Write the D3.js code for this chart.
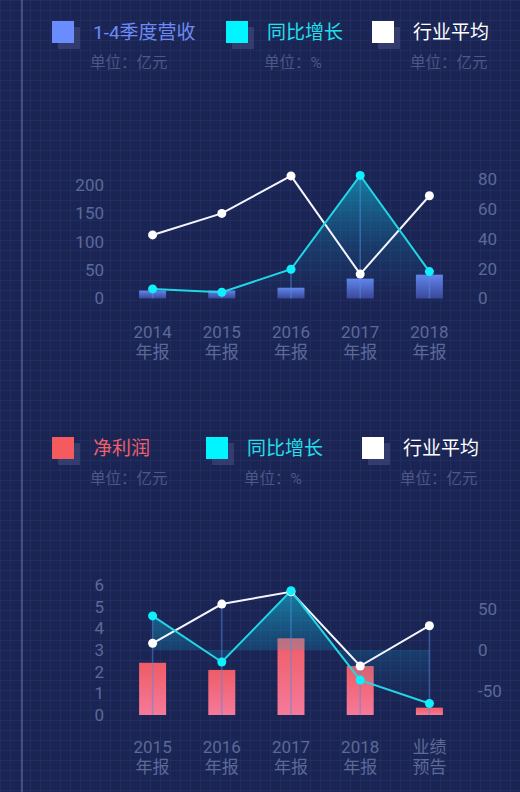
<!DOCTYPE html>
<html>
<head>
<meta charset="utf-8">
<script src="https://cdn.jsdelivr.net/npm/d3@7"></script>
<style>
  html, body { margin: 0; padding: 0; background: #1b2553; }
  svg { display: block; font-family: Roboto, "Noto Sans CJK SC", sans-serif; }
</style>
</head>
<body>
<div id="chart-container"></div>
<script>
const W = 520, H = 792;

// ---- data: top chart ----
const topYears = ["2014", "2015", "2016", "2017", "2018"];
const topSub = ["年报", "年报", "年报", "年报", "年报"];
const topRevenue = [14, 14, 19, 35, 42];          // 亿元
const topGrowth = [6.4, 4.2, 19.6, 82.4, 18];     // %
const topIndustry = [112, 150, 216, 43, 181];     // 亿元
const topLeftTicks = [0, 50, 100, 150, 200];
const topRightTicks = [0, 20, 40, 60, 80];
// which point each guide line hangs from: "g" growth, "w" industry
const topDrop = ["g", "g", "g", "g", "g"];

// ---- data: bottom chart ----
const botYears = ["2015", "2016", "2017", "2018", "业绩"];
const botSub = ["年报", "年报", "年报", "年报", "预告"];
const botProfit = [2.41, 2.08, 3.54, 2.26, 0.34];
const botGrowth = [41.6, -14.7, 72.2, -36.7, -65.3];
const botIndustry = [3.31, 5.12, 5.69, 2.26, 4.12];
const botLeftTicks = [0, 1, 2, 3, 4, 5, 6];
const botRightTicks = [-50, 0, 50];
const botDrop = ["g", "w", "w", "w", "w"];

const topLegend = [
    {name: "1-4季度营收", unit: "单位：亿元", color: "#6a8cff", text: "#6d8bf5"},
    {name: "同比增长", unit: "单位：%", color: "#00f5ff", text: "#22e0ec"},
    {name: "行业平均", unit: "单位：亿元", color: "#ffffff", text: "#ffffff"}
];
const botLegend = [
    {name: "净利润", unit: "单位：亿元", color: "#f45a5e", text: "#f0606c"},
    {name: "同比增长", unit: "单位：%", color: "#00f5ff", text: "#22e0ec"},
    {name: "行业平均", unit: "单位：亿元", color: "#ffffff", text: "#ffffff"}
];

const axisColor = "#5b6a99";
const unitColor = "#4b5888";

var svg = d3.select("#chart-container")
    .append("svg")
    .attr("width", W)
    .attr("height", H);

var defs = svg.append("defs");

// grid pattern for the background
var pat = defs.append("pattern")
    .attr("id", "grid")
    .attr("width", 10)
    .attr("height", 10)
    .attr("patternUnits", "userSpaceOnUse");
pat.append("rect").attr("width", 10).attr("height", 10).attr("fill", "#1b2553");
pat.append("path")
    .attr("d", "M10 0 L0 0 L0 10")
    .attr("fill", "none")
    .attr("stroke", "#263370")
    .attr("stroke-width", 1);

svg.append("rect").attr("width", W).attr("height", H).attr("fill", "url(#grid)");

// thin vertical line on the left
svg.append("line")
    .attr("x1", 22).attr("x2", 22)
    .attr("y1", 0).attr("y2", H)
    .attr("stroke", "rgba(190,200,255,0.35)")
    .attr("stroke-width", 1.5);

// gradients
function vGrad(id, stops) {
    var g = defs.append("linearGradient")
        .attr("id", id)
        .attr("x1", 0).attr("y1", 0).attr("x2", 0).attr("y2", 1);
    stops.forEach(s => g.append("stop")
        .attr("offset", s[0])
        .attr("stop-color", s[1])
        .attr("stop-opacity", s[2]));
}
vGrad("blueBar", [[0, "#6d8fff", 0.9], [1, "#3e4fa6", 0.85]]);
vGrad("redBar", [[0, "#ef5c66", 1], [1, "#f57a9a", 1]]);
vGrad("cyanArea", [[0, "#10d8ee", 0.5], [0.6, "#10a8d8", 0.15], [1, "#1080c0", 0.0]]);

// legend
function drawLegend(items, xs, y) {
    items.forEach((d, i) => {
        var g = svg.append("g").attr("transform", `translate(${xs[i]}, ${y})`);
        g.append("rect")
            .attr("x", 6).attr("y", 6)
            .attr("width", 22).attr("height", 22)
            .attr("fill", "rgba(110,120,175,0.28)");
        g.append("rect")
            .attr("width", 22).attr("height", 22)
            .attr("fill", d.color);
        g.append("text")
            .attr("x", 41).attr("y", 11)
            .attr("dy", "0.36em")
            .attr("fill", d.text)
            .style("font-size", "19px")
            .text(d.name);
        g.append("text")
            .attr("x", 38).attr("y", 41)
            .attr("dy", "0.36em")
            .attr("fill", unitColor)
            .style("font-size", "15.5px")
            .text(d.unit);
    });
}
drawLegend(topLegend, [52, 226, 372], 21);
drawLegend(botLegend, [52, 206, 362], 437);

// one combo chart
function drawChart(cfg) {
    var g = svg.append("g");

    var xScale = d3.scaleBand()
        .domain(d3.range(cfg.years.length))
        .range([118, 464])
        .paddingInner(0.61)
        .paddingOuter(0.305);
    var cx = i => xScale(i) + xScale.bandwidth() / 2;

    var yLeft = d3.scaleLinear().domain(cfg.leftDomain).range(cfg.leftRange);
    var yRight = d3.scaleLinear().domain(cfg.rightDomain).range(cfg.rightRange);

    // axes (labels only)
    var la = g.append("g")
        .attr("transform", "translate(107, 0)")
        .call(d3.axisLeft(yLeft).tickValues(cfg.leftTicks).tickSize(0).tickPadding(3)
            .tickFormat(d => String(d)));
    var ra = g.append("g")
        .attr("transform", "translate(475, 0)")
        .call(d3.axisRight(yRight).tickValues(cfg.rightTicks).tickSize(0).tickPadding(3)
            .tickFormat(d => String(d)));
    [la, ra].forEach(a => {
        a.select(".domain").remove();
        a.selectAll("text")
            .attr("fill", axisColor)
            .style("font-size", "17px")
            .style("font-family", "Roboto, sans-serif");
    });

    // category labels
    cfg.years.forEach((yr, i) => {
        var t = g.append("text")
            .attr("text-anchor", "middle")
            .attr("fill", axisColor)
            .style("font-size", "17px");
        t.append("tspan").attr("x", cx(i)).attr("y", cfg.labelY).attr("dy", "0.36em").text(yr);
        t.append("tspan").attr("x", cx(i)).attr("y", cfg.labelY + 20).attr("dy", "0.36em").text(cfg.sub[i]);
    });

    // bars
    g.selectAll(".bar")
        .data(cfg.bars)
        .enter().append("rect")
        .attr("class", "bar")
        .attr("x", (d, i) => xScale(i))
        .attr("width", xScale.bandwidth())
        .attr("y", d => yLeft(d))
        .attr("height", d => yLeft(0) - yLeft(d))
        .attr("fill", cfg.barFill);

    // area under growth line, down to the zero of the right axis
    var area = d3.area()
        .x((d, i) => cx(i))
        .y0(yRight(0))
        .y1(d => yRight(d));
    g.append("path")
        .datum(cfg.growth)
        .attr("fill", "url(#cyanArea)")
        .attr("d", area);

    // guide lines hanging from a point down to the base
    cfg.drop.forEach((s, i) => {
        var top = s === "g" ? yRight(cfg.growth[i]) : yLeft(cfg.industry[i]);
        g.append("line")
            .attr("x1", cx(i)).attr("x2", cx(i))
            .attr("y1", top).attr("y2", yLeft(0))
            .attr("stroke", "rgba(80,140,225,0.5)")
            .attr("stroke-width", 1.5);
    });

    // industry average line (white)
    var whiteLine = d3.line().x((d, i) => cx(i)).y(d => yLeft(d));
    g.append("path")
        .datum(cfg.industry)
        .attr("fill", "none")
        .attr("stroke", "#f4f6ff")
        .attr("stroke-width", 2)
        .attr("d", whiteLine);

    // growth line (cyan)
    var cyanLine = d3.line().x((d, i) => cx(i)).y(d => yRight(d));
    g.append("path")
        .datum(cfg.growth)
        .attr("fill", "none")
        .attr("stroke", "#22d6e4")
        .attr("stroke-width", 2)
        .attr("d", cyanLine);

    g.selectAll(".wdot")
        .data(cfg.industry)
        .enter().append("circle")
        .attr("cx", (d, i) => cx(i))
        .attr("cy", d => yLeft(d))
        .attr("r", 4.5)
        .attr("fill", "#ffffff");

    g.selectAll(".cdot")
        .data(cfg.growth)
        .enter().append("circle")
        .attr("cx", (d, i) => cx(i))
        .attr("cy", d => yRight(d))
        .attr("r", 4.5)
        .attr("fill", "#0ff0ff");
}

drawChart({
    years: topYears, sub: topSub,
    bars: topRevenue, growth: topGrowth, industry: topIndustry, drop: topDrop,
    leftDomain: [0, 200], leftRange: [298.5, 185],
    rightDomain: [0, 80], rightRange: [298.5, 179],
    leftTicks: topLeftTicks, rightTicks: topRightTicks,
    labelY: 331.5, barFill: "url(#blueBar)"
});

drawChart({
    years: botYears, sub: botSub,
    bars: botProfit, growth: botGrowth, industry: botIndustry, drop: botDrop,
    leftDomain: [0, 6], leftRange: [715, 585],
    rightDomain: [0, 50], rightRange: [650, 609],
    leftTicks: botLeftTicks, rightTicks: botRightTicks,
    labelY: 746.5, barFill: "url(#redBar)"
});
</script>
</body>
</html>
